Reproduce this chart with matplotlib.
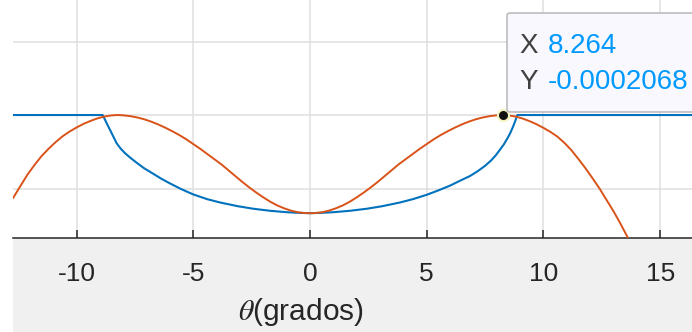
import matplotlib
matplotlib.use("Agg")
import matplotlib.pyplot as plt
from matplotlib.patches import FancyBboxPatch, Rectangle

plt.rcParams['font.family'] = ['Liberation Sans', 'DejaVu Sans']
plt.rcParams['mathtext.fontset'] = 'stix'

# angle (degrees) and pattern values, orange curve
theta_o = [-12.72, -12.4, -12.1, -11.8, -11.5, -11.2, -10.9, -10.6, -10.3,
           -10.0, -9.7, -9.4, -9.1, -8.8, -8.5, -8.26, -8.0, -7.7, -7.4,
           -7.1, -6.8, -6.5, -6.2, -5.9, -5.6, -5.3, -5.0, -4.7, -4.4, -4.1,
           -3.8, -3.5, -3.2, -2.9, -2.6, -2.3, -2.0, -1.7, -1.4, -1.1, -0.8,
           -0.5, -0.2, 0.0, 0.2, 0.5, 0.8, 1.1, 1.4, 1.7, 2.0, 2.3, 2.6, 2.9,
           3.2, 3.5, 3.8, 4.1, 4.4, 4.7, 5.0, 5.3, 5.6, 5.9, 6.2, 6.5, 6.8,
           7.1, 7.4, 7.7, 8.0, 8.26, 8.5, 8.8, 9.1, 9.4, 9.7, 10.0, 10.3,
           10.6, 10.9, 11.2, 11.5, 11.8, 12.1, 12.4, 12.7, 13.0, 13.3, 13.63]
pattern_o = [-1.13, -0.965, -0.81, -0.68, -0.56, -0.46, -0.37, -0.29, -0.225,
             -0.17, -0.12, -0.08, -0.045, -0.02, -0.005, 0.0, -0.004, -0.015,
             -0.033, -0.058, -0.09, -0.128, -0.172, -0.22, -0.272, -0.33,
             -0.395, -0.46, -0.53, -0.6, -0.67, -0.75, -0.83, -0.91, -0.985,
             -1.055, -1.12, -1.18, -1.23, -1.27, -1.302, -1.324, -1.334,
             -1.336, -1.334, -1.324, -1.302, -1.27, -1.23, -1.18, -1.12,
             -1.055, -0.985, -0.91, -0.83, -0.75, -0.67, -0.6, -0.53, -0.46,
             -0.395, -0.33, -0.272, -0.22, -0.172, -0.128, -0.09, -0.058,
             -0.033, -0.015, -0.004, 0.0, -0.005, -0.02, -0.047, -0.083,
             -0.125, -0.175, -0.23, -0.295, -0.38, -0.48, -0.6, -0.725, -0.86,
             -1.0, -1.155, -1.31, -1.48, -1.68]

# angle (degrees) and pattern values, blue curve
theta_b = [-12.72, -8.88, -8.8, -8.71, -8.6, -8.49, -8.38, -8.28, -8.1, -7.92,
           -7.7, -7.42, -7.1, -6.71, -6.35, -6.0, -5.5, -5.0, -4.4, -3.85,
           -3.1, -2.43, -1.7, -1.0, -0.4, 0.0, 0.4, 1.0, 1.7, 2.43, 3.1, 3.85,
           4.4, 5.0, 5.5, 6.0, 6.45, 6.85, 7.2, 7.5, 7.75, 7.95, 8.14, 8.3,
           8.45, 8.57, 8.68, 8.78, 8.88, 16.5]
pattern_b = [0.0, 0.0, -0.05, -0.11, -0.18, -0.25, -0.32, -0.385, -0.46, -0.52,
             -0.58, -0.65, -0.725, -0.8, -0.87, -0.93, -1.01, -1.08, -1.145,
             -1.19, -1.24, -1.275, -1.303, -1.322, -1.332, -1.335, -1.332,
             -1.322, -1.303, -1.275, -1.24, -1.19, -1.145, -1.085, -1.025,
             -0.96, -0.89, -0.83, -0.76, -0.69, -0.62, -0.55, -0.47, -0.4,
             -0.32, -0.25, -0.17, -0.09, 0.0, 0.0]

x_ticks = [-10, -5, 0, 5, 10, 15]
y_grid = [-1, 0, 1]

# data tip values
tip_x = 8.264
tip_y = -0.0002068

fig = plt.figure(figsize=(6.92, 3.32), dpi=100)
fig.patch.set_facecolor('#f0f0f0')
fig.patches.append(Rectangle((0, 0), 13 / 692, 1, transform=fig.transFigure,
                             facecolor='white', edgecolor='none', zorder=-1))

ax = fig.add_axes([13 / 692, 94 / 332, 679 / 692, 238 / 332])
ax.set_facecolor('white')

ax.plot(theta_b, pattern_b, color='#0072BD', lw=1.5, zorder=3,
        solid_joinstyle='round')
ax.plot(theta_o, pattern_o, color='#D95319', lw=1.4, zorder=4,
        solid_joinstyle='round')

ax.set_xlim(-12.72, 16.36)
ax.set_ylim(-1.673, 1.565)
ax.set_xticks(x_ticks)
ax.set_xticklabels([str(t) for t in x_ticks])
ax.set_yticks(y_grid)
ax.tick_params(axis='y', left=False, labelleft=False)
ax.tick_params(axis='x', direction='in', length=6, width=1.1, color='#262626',
               labelsize=19, labelcolor='#262626', pad=17)
ax.grid(True, color='#dfdfdf', lw=1.1)
ax.set_axisbelow(True)
for side in ['top', 'right', 'left']:
    ax.spines[side].set_visible(False)
ax.spines['bottom'].set_color('#262626')
ax.spines['bottom'].set_linewidth(1.1)

ax.set_xlabel(r'$\theta$(grados)', fontsize=21.5, color='#262626')
ax.xaxis.set_label_coords(0.424, -0.245)

# data tip marker and box
ax.plot([tip_x], [tip_y], 'o', color='#111111', ms=8, mec='#f4f4c0', mew=1.5,
        zorder=6, clip_on=False)
box = FancyBboxPatch((507 / 692, 1 - 112 / 332), 0.35, (112 - 13) / 332,
                     boxstyle='round,pad=0,rounding_size=0.006',
                     transform=fig.transFigure, facecolor='#f8f8fe',
                     edgecolor='#bdbdbd', lw=1.2, zorder=10)
fig.patches.append(box)
fig.text(519 / 692, 1 - 46 / 332, 'X', fontsize=20, color='#404040',
         va='center', ha='left', zorder=11)
fig.text(548 / 692, 1 - 46 / 332, f'{tip_x:.3f}', fontsize=20, color='#0099FF',
         va='center', ha='left', zorder=11)
fig.text(519 / 692, 1 - 82 / 332, 'Y', fontsize=20, color='#404040',
         va='center', ha='left', zorder=11)
fig.text(548 / 692, 1 - 82 / 332, f'{tip_y:.7f}', fontsize=20, color='#0099FF',
         va='center', ha='left', zorder=11)

fig.savefig('out.png', dpi=100, facecolor=fig.get_facecolor())
